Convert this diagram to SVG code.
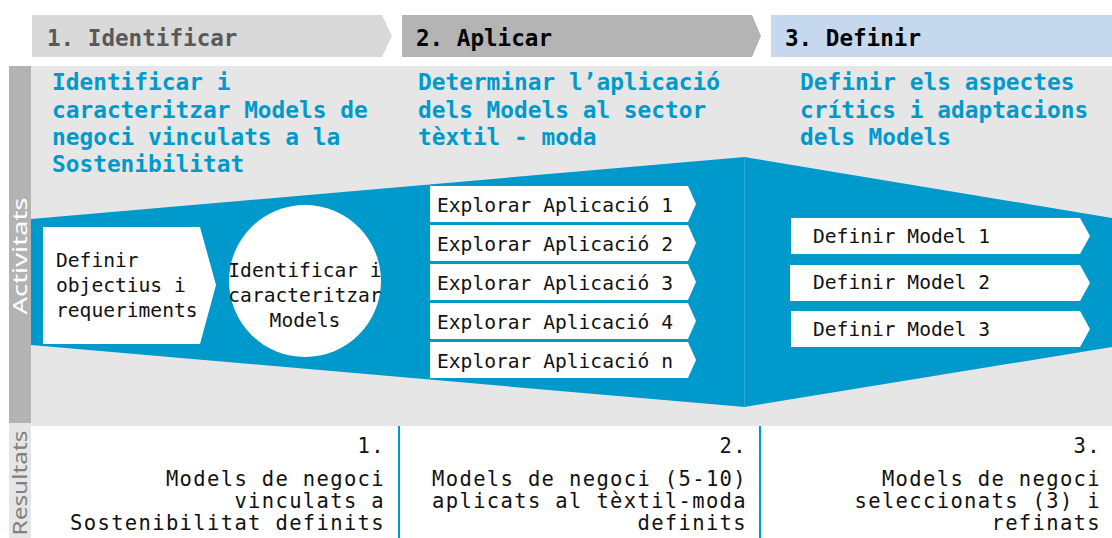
<svg xmlns="http://www.w3.org/2000/svg" width="1112" height="538" viewBox="0 0 1112 538">
<style>
.mono{font-family:"DejaVu Sans Mono","Liberation Mono",monospace}
.hdr{font-family:"DejaVu Sans Mono","Liberation Mono",monospace;font-weight:bold;font-size:22.6px}
.ttl{font-family:"DejaVu Sans Mono","Liberation Mono",monospace;font-weight:bold;font-size:22.8px;fill:#0099cc}
.act{font-family:"DejaVu Sans Mono","Liberation Mono",monospace;font-size:19.6px;fill:#111}
.res{font-family:"DejaVu Sans Mono","Liberation Mono",monospace;font-size:20.5px;letter-spacing:1.35px;fill:#111;text-anchor:end}
.box{fill:#ffffff}
.side{font-family:"Noto Sans","Liberation Sans",sans-serif;font-size:19px}
</style>
<rect width="1112" height="538" fill="#ffffff"/>
<!-- header bars -->
<g id="header1"><polygon points="32,15 382,15 392,36 382,57 32,57" fill="#d9d9d9"/><text class="hdr" x="47" y="46" fill="#595959">1. Identificar</text></g>
<g id="header2"><polygon points="402,15 752,15 761,36 752,57 402,57" fill="#b4b4b4"/><text class="hdr" x="416" y="46" fill="#000">2. Aplicar</text></g>
<g id="header3"><rect x="771" y="15" width="341" height="42" fill="#c5d8ed"/><text class="hdr" x="785" y="46" fill="#000">3. Definir</text></g>
<!-- body -->
<rect x="31" y="66" width="1081" height="360" fill="#e6e6e6"/>
<rect x="9" y="66" width="22" height="357" fill="#b3b3b3"/>
<rect x="9" y="423" width="22" height="115" fill="#e6e6e6"/>
<text class="side" fill="#ffffff" text-anchor="middle" transform="translate(27,256) rotate(-90)" textLength="117" lengthAdjust="spacingAndGlyphs">Activitats</text>
<text class="side" fill="#808080" text-anchor="middle" transform="translate(27,483) rotate(-90)" textLength="105" lengthAdjust="spacingAndGlyphs">Resultats</text>
<!-- titles -->
<g id="title1"><text class="ttl" x="52" y="90">Identificar i</text><text class="ttl" x="52" y="118">caracteritzar Models de</text><text class="ttl" x="52" y="145">negoci vinculats a la</text><text class="ttl" x="52" y="172">Sostenibilitat</text></g>
<g id="title2"><text class="ttl" x="418" y="90">Determinar l’aplicació</text><text class="ttl" x="418" y="118">dels Models al sector</text><text class="ttl" x="418" y="145">tèxtil - moda</text></g>
<g id="title3"><text class="ttl" x="800" y="90">Definir els aspectes</text><text class="ttl" x="800" y="118">crítics i adaptacions</text><text class="ttl" x="800" y="145">dels Models</text></g>
<!-- funnel -->
<g id="funnel">
<polygon points="31,219 745,157 745,407 31,345" fill="#0099cc"/>
<polygon points="744,157 1112,218 1112,347 744,407" fill="#0099cc"/>
<line x1="744.5" y1="158" x2="744.5" y2="406" stroke="#2aa8d6" stroke-width="1"/>
</g>
<!-- nodes -->
<g id="n-definir-objectius"><polygon class="box" points="43,227 200,227 216,285 200,344 43,344"/><text class="act" x="56" y="267">Definir</text><text class="act" x="56" y="292">objectius i</text><text class="act" x="56" y="317">requeriments</text></g>
<g id="n-identificar"><circle class="box" cx="305" cy="281" r="76"/><text class="act" x="305" y="277" text-anchor="middle">Identificar i</text><text class="act" x="305" y="302" text-anchor="middle">caracteritzar</text><text class="act" x="305" y="327" text-anchor="middle">Models</text></g>
<g id="n-explorar1"><polygon class="box" points="430,186 688,186 696,204 688,222 430,222"/><text class="act" x="437" y="212">Explorar Aplicació 1</text></g>
<g id="n-explorar2"><polygon class="box" points="430,225 688,225 696,243 688,261 430,261"/><text class="act" x="437" y="251">Explorar Aplicació 2</text></g>
<g id="n-explorar3"><polygon class="box" points="430,264 688,264 696,282 688,300 430,300"/><text class="act" x="437" y="290">Explorar Aplicació 3</text></g>
<g id="n-explorar4"><polygon class="box" points="430,303 688,303 696,321 688,339 430,339"/><text class="act" x="437" y="329">Explorar Aplicació 4</text></g>
<g id="n-explorarn"><polygon class="box" points="430,342 688,342 696,360 688,378 430,378"/><text class="act" x="437" y="368">Explorar Aplicació n</text></g>
<g id="n-model1"><polygon class="box" points="791,218 1080,218 1090,236 1080,254 791,254"/><text class="act" x="813" y="243">Definir Model 1</text></g>
<g id="n-model2"><polygon class="box" points="790,265 1080,265 1090,283 1080,301 790,301"/><text class="act" x="813" y="289">Definir Model 2</text></g>
<g id="n-model3"><polygon class="box" points="791,311 1080,311 1090,329 1080,347 791,347"/><text class="act" x="813" y="336">Definir Model 3</text></g>
<!-- results -->
<g id="connectors"><line x1="399" y1="426" x2="399" y2="538" stroke="#0099cc" stroke-width="2"/><line x1="760" y1="426" x2="760" y2="538" stroke="#0099cc" stroke-width="2"/></g>
<g id="result1"><text class="res" x="385" y="453">1.</text><text class="res" x="385" y="486">Models de negoci</text><text class="res" x="385" y="508">vinculats a</text><text class="res" x="385" y="530">Sostenibilitat definits</text></g>
<g id="result2"><text class="res" x="747" y="453">2.</text><text class="res" x="747" y="486">Models de negoci (5-10)</text><text class="res" x="747" y="508">aplicats al tèxtil-moda</text><text class="res" x="747" y="530">definits</text></g>
<g id="result3"><text class="res" x="1101" y="453">3.</text><text class="res" x="1101" y="486">Models de negoci</text><text class="res" x="1101" y="508">seleccionats (3) i</text><text class="res" x="1101" y="530">refinats</text></g>
</svg>
